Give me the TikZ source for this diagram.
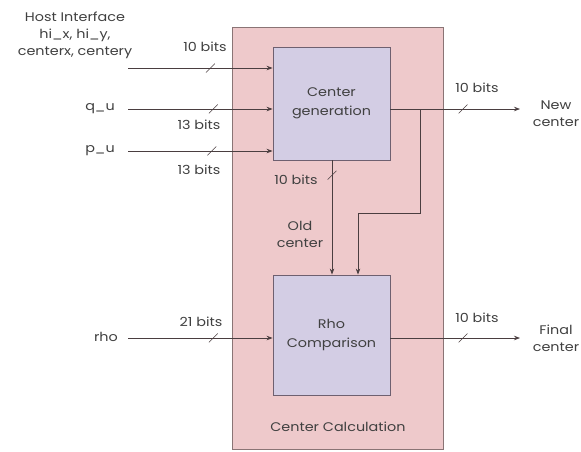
\documentclass[tikz,border=0pt]{standalone}
\usepackage{fontspec}
\setmainfont{Poppins}[FakeStretch=1.15]
\usetikzlibrary{arrows.meta}
\definecolor{pinkfill}{HTML}{EEC9CB}
\definecolor{pinkdraw}{HTML}{8A7475}
\definecolor{lavfill}{HTML}{D3CDE4}
\definecolor{lavdraw}{HTML}{6E6070}
\definecolor{wire}{HTML}{4A3E40}
\tikzset{
  x=1pt, y=-1pt,
  lbl/.style={font=\fontsize{12.5}{17}\selectfont, text=black!75, inner sep=1pt, align=center},
  outerbox/.style={draw=pinkdraw, fill=pinkfill, line width=0.8pt},
  blockbox/.style={draw=lavdraw, fill=lavfill, line width=0.9pt, minimum width=117pt, align=center,
                   font=\fontsize{12.5}{19}\selectfont, text=black!75},
  wireline/.style={draw=wire, line width=0.7pt},
  arr/.style={wireline, -{Stealth[length=6pt,width=4.5pt]}},
  buslash/.style={minimum size=9pt, inner sep=0pt,
     path picture={\draw[wire, line width=0.5pt, -] (path picture bounding box.south west) -- (path picture bounding box.north east);}}
}
\begin{document}
\begin{tikzpicture}
\useasboundingbox (0,0) rectangle (581,451);
% outer box
\node[outerbox, minimum width=211pt, minimum height=422pt, inner sep=0pt] (calc) at (337.5,238) {};
\node[lbl] (calclbl) at (338,427) {Center Calculation};
% blocks
\node[blockbox, minimum height=113pt] (gen) at (331.5,103.5) {Center\\generation};
\node[blockbox, minimum height=120pt] (rho) at (331.5,335) {Rho\\Comparison};
% input labels
\node[lbl] (host) at (75,35) {Host Interface\\hi\_x, hi\_y,\\centerx, centery};
\node[lbl] (qu) at (100,109) {q\_u};
\node[lbl] (pu) at (100,151) {p\_u};
\node[lbl] (rhoin) at (106,337) {rho};
% bit labels
\node[lbl] (b1) at (205,47) {10 bits};
\node[lbl] (b2) at (199,125) {13 bits};
\node[lbl] (b3) at (199,170) {13 bits};
\node[lbl] (b4) at (201,322) {21 bits};
\node[lbl] (b5) at (477,88) {10 bits};
\node[lbl] (b6) at (477,318) {10 bits};
\node[lbl] (b7) at (296,180) {10 bits};
\node[lbl] (old) at (300,234) {Old\\center};
% output labels
\node[lbl] (newc) at (556,114) {New\\center};
\node[lbl] (finc) at (556,338) {Final\\center};
% coordinates
\coordinate (hs) at (128,68);
\coordinate (qs) at (128,109);
\coordinate (ps) at (128,151);
\coordinate (rs) at (128,338);
\coordinate (ne) at (520,109);
\coordinate (fe) at (520,338);
\coordinate (br) at (420,109);
\coordinate (bend1) at (420,213);
\coordinate (bend2) at (358,213);
% input wires
\draw[arr] (hs) -- node[buslash, pos=0.57]{} (gen.west |- hs);
\draw[arr] (qs) -- node[buslash, pos=0.59]{} (gen.west |- qs);
\draw[arr] (ps) -- node[buslash, pos=0.58]{} (gen.west |- ps);
\draw[arr] (rs) -- node[buslash, pos=0.59]{} (rho.west |- rs);
% outputs
\draw[arr] (gen.east |- ne) -- node[buslash, pos=0.56]{} (ne);
\draw[arr] (rho.east |- fe) -- node[buslash, pos=0.56]{} (fe);
% old center
\draw[arr] (gen.south -| 332,0) -- node[buslash, pos=0.13]{} (rho.north -| 332,0);
% branch
\draw[arr] (br) -- (bend1) -- (bend2) -- (rho.north -| bend2);
\end{tikzpicture}
\end{document}
